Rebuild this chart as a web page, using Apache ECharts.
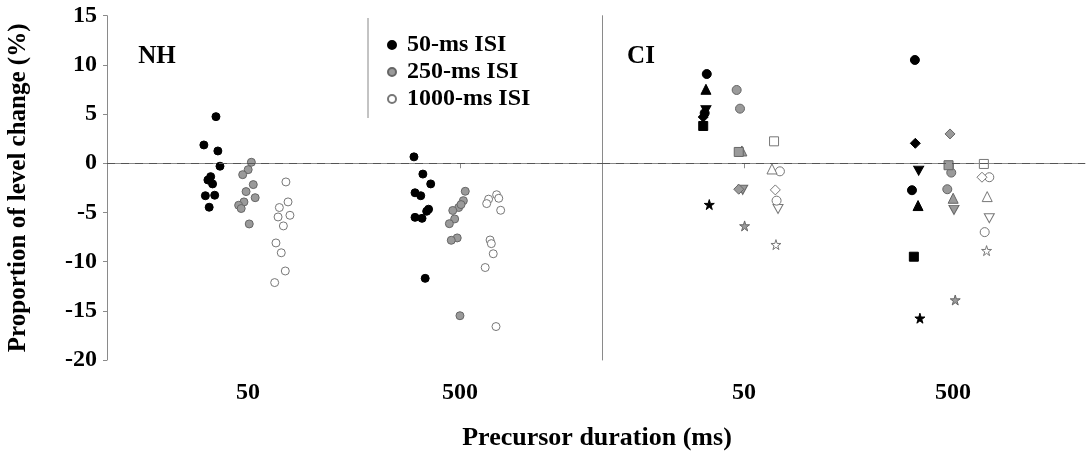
<!DOCTYPE html>
<html><head><meta charset="utf-8">
<script src="https://cdn.jsdelivr.net/npm/echarts@6/dist/echarts.min.js"></script>
<style>html,body{margin:0;padding:0;background:#fff}#c{width:1086px;height:454px}</style>
</head><body><div id="c"></div>
<script>
// ---- data ----
const durationLabels = ['50', '500'];          // x tick labels per panel
const isiNames = ['50-ms ISI', '250-ms ISI', '1000-ms ISI'];
const panelNames = ['NH', 'CI'];

// NH: jitter offsets (in category units) and values (%) for 50-ms and 500-ms precursors
const nh50_50_off  = [-0.151,-0.208,-0.142,-0.132,-0.176,-0.189,-0.167,-0.201,-0.157,-0.183];
const nh50_50_val  = [4.74,1.86,1.25,-0.3,-1.36,-1.7,-2.1,-3.3,-3.25,-4.47];
const nh50_250_off = [0.016,0.001,-0.025,0.025,-0.009,0.034,-0.019,-0.044,-0.032,0.006];
const nh50_250_val = [0.1,-0.65,-1.16,-2.17,-2.88,-3.5,-3.93,-4.27,-4.6,-6.17];
const nh50_1000_off= [0.179,0.189,0.148,0.198,0.142,0.167,0.132,0.157,0.176,0.126];
const nh50_1000_val= [-1.9,-3.93,-4.5,-5.29,-5.46,-6.37,-8.1,-9.1,-10.95,-12.13];

const nh500_50_off  = [-0.217,-0.175,-0.138,-0.212,-0.185,-0.148,-0.157,-0.212,-0.179,-0.164];
const nh500_50_val  = [0.65,-1.1,-2.1,-3.0,-3.3,-4.67,-4.88,-5.5,-5.6,-11.7];
const nh500_250_off = [0.025,0.016,-0.006,-0.034,-0.025,-0.050,-0.013,-0.041,0.0,0.005];
const nh500_250_val = [-2.85,-3.8,-4.5,-4.8,-5.66,-6.14,-7.59,-7.83,-15.5,-4.2];
const nh500_1000_off= [0.135,0.126,0.173,0.183,0.192,0.142,0.148,0.157,0.119,0.170];
const nh500_1000_val= [-3.65,-4.1,-3.2,-3.56,-4.78,-7.8,-8.17,-9.2,-10.6,-16.6];

// CI: 7 subjects, one marker each
const ciSymbols = ['circle','triangle','invTriangle','circle','diamond','rect','star'];
const ci50_50_off  = [-0.178,-0.182,-0.182,-0.188,-0.195,-0.195,-0.166];
const ci50_50_val  = [9.07,7.52,5.4,5.1,4.7,3.79,-4.2];
const ci50_250_off = [-0.035,-0.010,-0.006,-0.019,-0.025,-0.025,0.003];
const ci50_250_val = [7.45,1.25,-2.7,5.55,-2.64,1.15,-6.37];
const ci50_1000_off= [0.172,0.134,0.163,0.156,0.150,0.144,0.153];
const ci50_1000_val= [-0.82,-0.58,-4.64,-3.8,-2.71,2.23,-8.27];
const ci500_50_off  = [-0.182,-0.167,-0.164,-0.196,-0.180,-0.187,-0.158];
const ci500_50_val  = [10.5,-4.3,-0.75,-2.74,2.03,-9.5,-15.75];
const ci500_250_off = [-0.008,0.001,0.005,-0.027,-0.014,-0.021,0.011];
const ci500_250_val = [-0.95,-3.56,-4.74,-2.64,2.98,-0.2,-13.9];
const ci500_1000_off= [0.174,0.164,0.174,0.152,0.139,0.148,0.161];
const ci500_1000_val= [-1.42,-3.39,-5.59,-7.0,-1.42,-0.07,-8.88];

// ---- styling ----
const FONT = "'Liberation Serif','Times New Roman',serif";
const isiStyles = [
  {color:'#000', borderColor:'#000', borderWidth:1, opacity:1},
  {color:'#9a9a9a', borderColor:'#666', borderWidth:1, opacity:1},
  {color:'#fff', borderColor:'#777', borderWidth:1, opacity:1}
];
const symbolPaths = {
  circle:'circle', triangle:'triangle', diamond:'diamond', rect:'rect',
  invTriangle:'path://M0,0 L10,0 L5,9 Z',
  star:'path://M50,0 L61,35 L98,35 L68,57 L79,91 L50,70 L21,91 L32,57 L2,35 L39,35 Z'
};
const symbolSizes = {circle:9, triangle:10, diamond:10, rect:9, invTriangle:[10,9], star:10};

function pts(pos, off, val){ return off.map((o,i)=>[pos+o, val[i]]); }
function ciPts(pos, off, val){
  return off.map((o,i)=>({value:[pos+o, val[i]], symbol:symbolPaths[ciSymbols[i]], symbolSize:symbolSizes[ciSymbols[i]]}));
}

const nhData = [
  pts(1,nh50_50_off,nh50_50_val).concat(pts(2,nh500_50_off,nh500_50_val)),
  pts(1,nh50_250_off,nh50_250_val).concat(pts(2,nh500_250_off,nh500_250_val)),
  pts(1,nh50_1000_off,nh50_1000_val).concat(pts(2,nh500_1000_off,nh500_1000_val))
];
const ciData = [
  ciPts(1,ci50_50_off,ci50_50_val).concat(ciPts(2,ci500_50_off,ci500_50_val)),
  ciPts(1,ci50_250_off,ci50_250_val).concat(ciPts(2,ci500_250_off,ci500_250_val)),
  ciPts(1,ci50_1000_off,ci50_1000_val).concat(ciPts(2,ci500_1000_off,ci500_1000_val))
];

const zeroLine = {
  silent:true, symbol:['none','none'], label:{show:false},
  lineStyle:{type:[8,6], color:'#555', width:1, opacity:1},
  data:[{yAxis:0}]
};

const series = [];
isiNames.forEach((n,k)=>{
  series.push({name:n, type:'scatter', xAxisIndex:0, yAxisIndex:0, symbol:'circle', symbolSize:8,
    itemStyle:isiStyles[k], data:nhData[k], z:3, markLine: k===0 ? zeroLine : undefined});
});
isiNames.forEach((n,k)=>{
  series.push({name:n, type:'scatter', xAxisIndex:1, yAxisIndex:1, symbolSize:9,
    itemStyle:isiStyles[k], data:ciData[k], z:3, markLine: k===0 ? zeroLine : undefined});
});

const axisLineStyle = {color:'#8a8a8a', width:1};
function xAxis(gi, min, max){
  return {type:'value', gridIndex:gi, min:min, max:max,
    axisLine:{show:true, lineStyle:axisLineStyle},
    axisTick:{show:true, length:5, lineStyle:axisLineStyle, customValues:[1,2]},
    axisLabel:{show:true, customValues:[1,2], formatter:v=>durationLabels[Math.round(v)-1],
      margin:21, fontFamily:FONT, fontWeight:'bold', fontSize:24, color:'#000'},
    splitLine:{show:false}};
}

const option = {
  animation:false,
  backgroundColor:'#fff',
  grid:[
    {left:107, top:15.7, width:495, height:344.3},
    {left:602, top:15.7, width:483, height:344.3}
  ],
  xAxis:[ xAxis(0, 0.335, 2.670), xAxis(1, 0.3206, 2.632) ],
  yAxis:[
    {type:'value', gridIndex:0, min:-20, max:15, interval:5,
      axisLine:{show:true, lineStyle:axisLineStyle},
      axisTick:{show:true, length:4, lineStyle:axisLineStyle},
      axisLabel:{margin:10, fontFamily:FONT, fontWeight:'bold', fontSize:24, color:'#000'},
      splitLine:{show:false},
      name:'Proportion of level change (%)', nameLocation:'middle', nameGap:76,
      nameTextStyle:{fontFamily:FONT, fontWeight:'bold', fontSize:25, color:'#000'}},
    {type:'value', gridIndex:1, min:-20, max:15, interval:5,
      axisLine:{show:true, lineStyle:axisLineStyle},
      axisTick:{show:false}, axisLabel:{show:false}, splitLine:{show:false}}
  ],
  legend:{
    data:isiNames, orient:'vertical', left:382, top:28, icon:'circle',
    itemWidth:8, itemHeight:8, itemGap:3,
    textStyle:{fontFamily:FONT, fontWeight:'bold', fontSize:24, lineHeight:24, color:'#000', padding:[0,0,0,6]}
  },
  graphic:[
    {type:'line', shape:{x1:368, y1:18, x2:368, y2:118}, style:{stroke:'#888', lineWidth:1}},
    {type:'text', x:157, y:57, style:{text:panelNames[0], font:"bold 25px "+FONT, fill:'#000', textAlign:'center', textVerticalAlign:'middle'}},
    {type:'text', x:641, y:57, style:{text:panelNames[1], font:"bold 25px "+FONT, fill:'#000', textAlign:'center', textVerticalAlign:'middle'}},
    {type:'text', x:597, y:438, style:{text:'Precursor duration (ms)', font:"bold 26px "+FONT, fill:'#000', textAlign:'center', textVerticalAlign:'middle'}}
  ],
  series:series
};
const chart = echarts.init(document.getElementById('c'), null, {renderer:'canvas'});
chart.setOption(option);
</script></body></html>
